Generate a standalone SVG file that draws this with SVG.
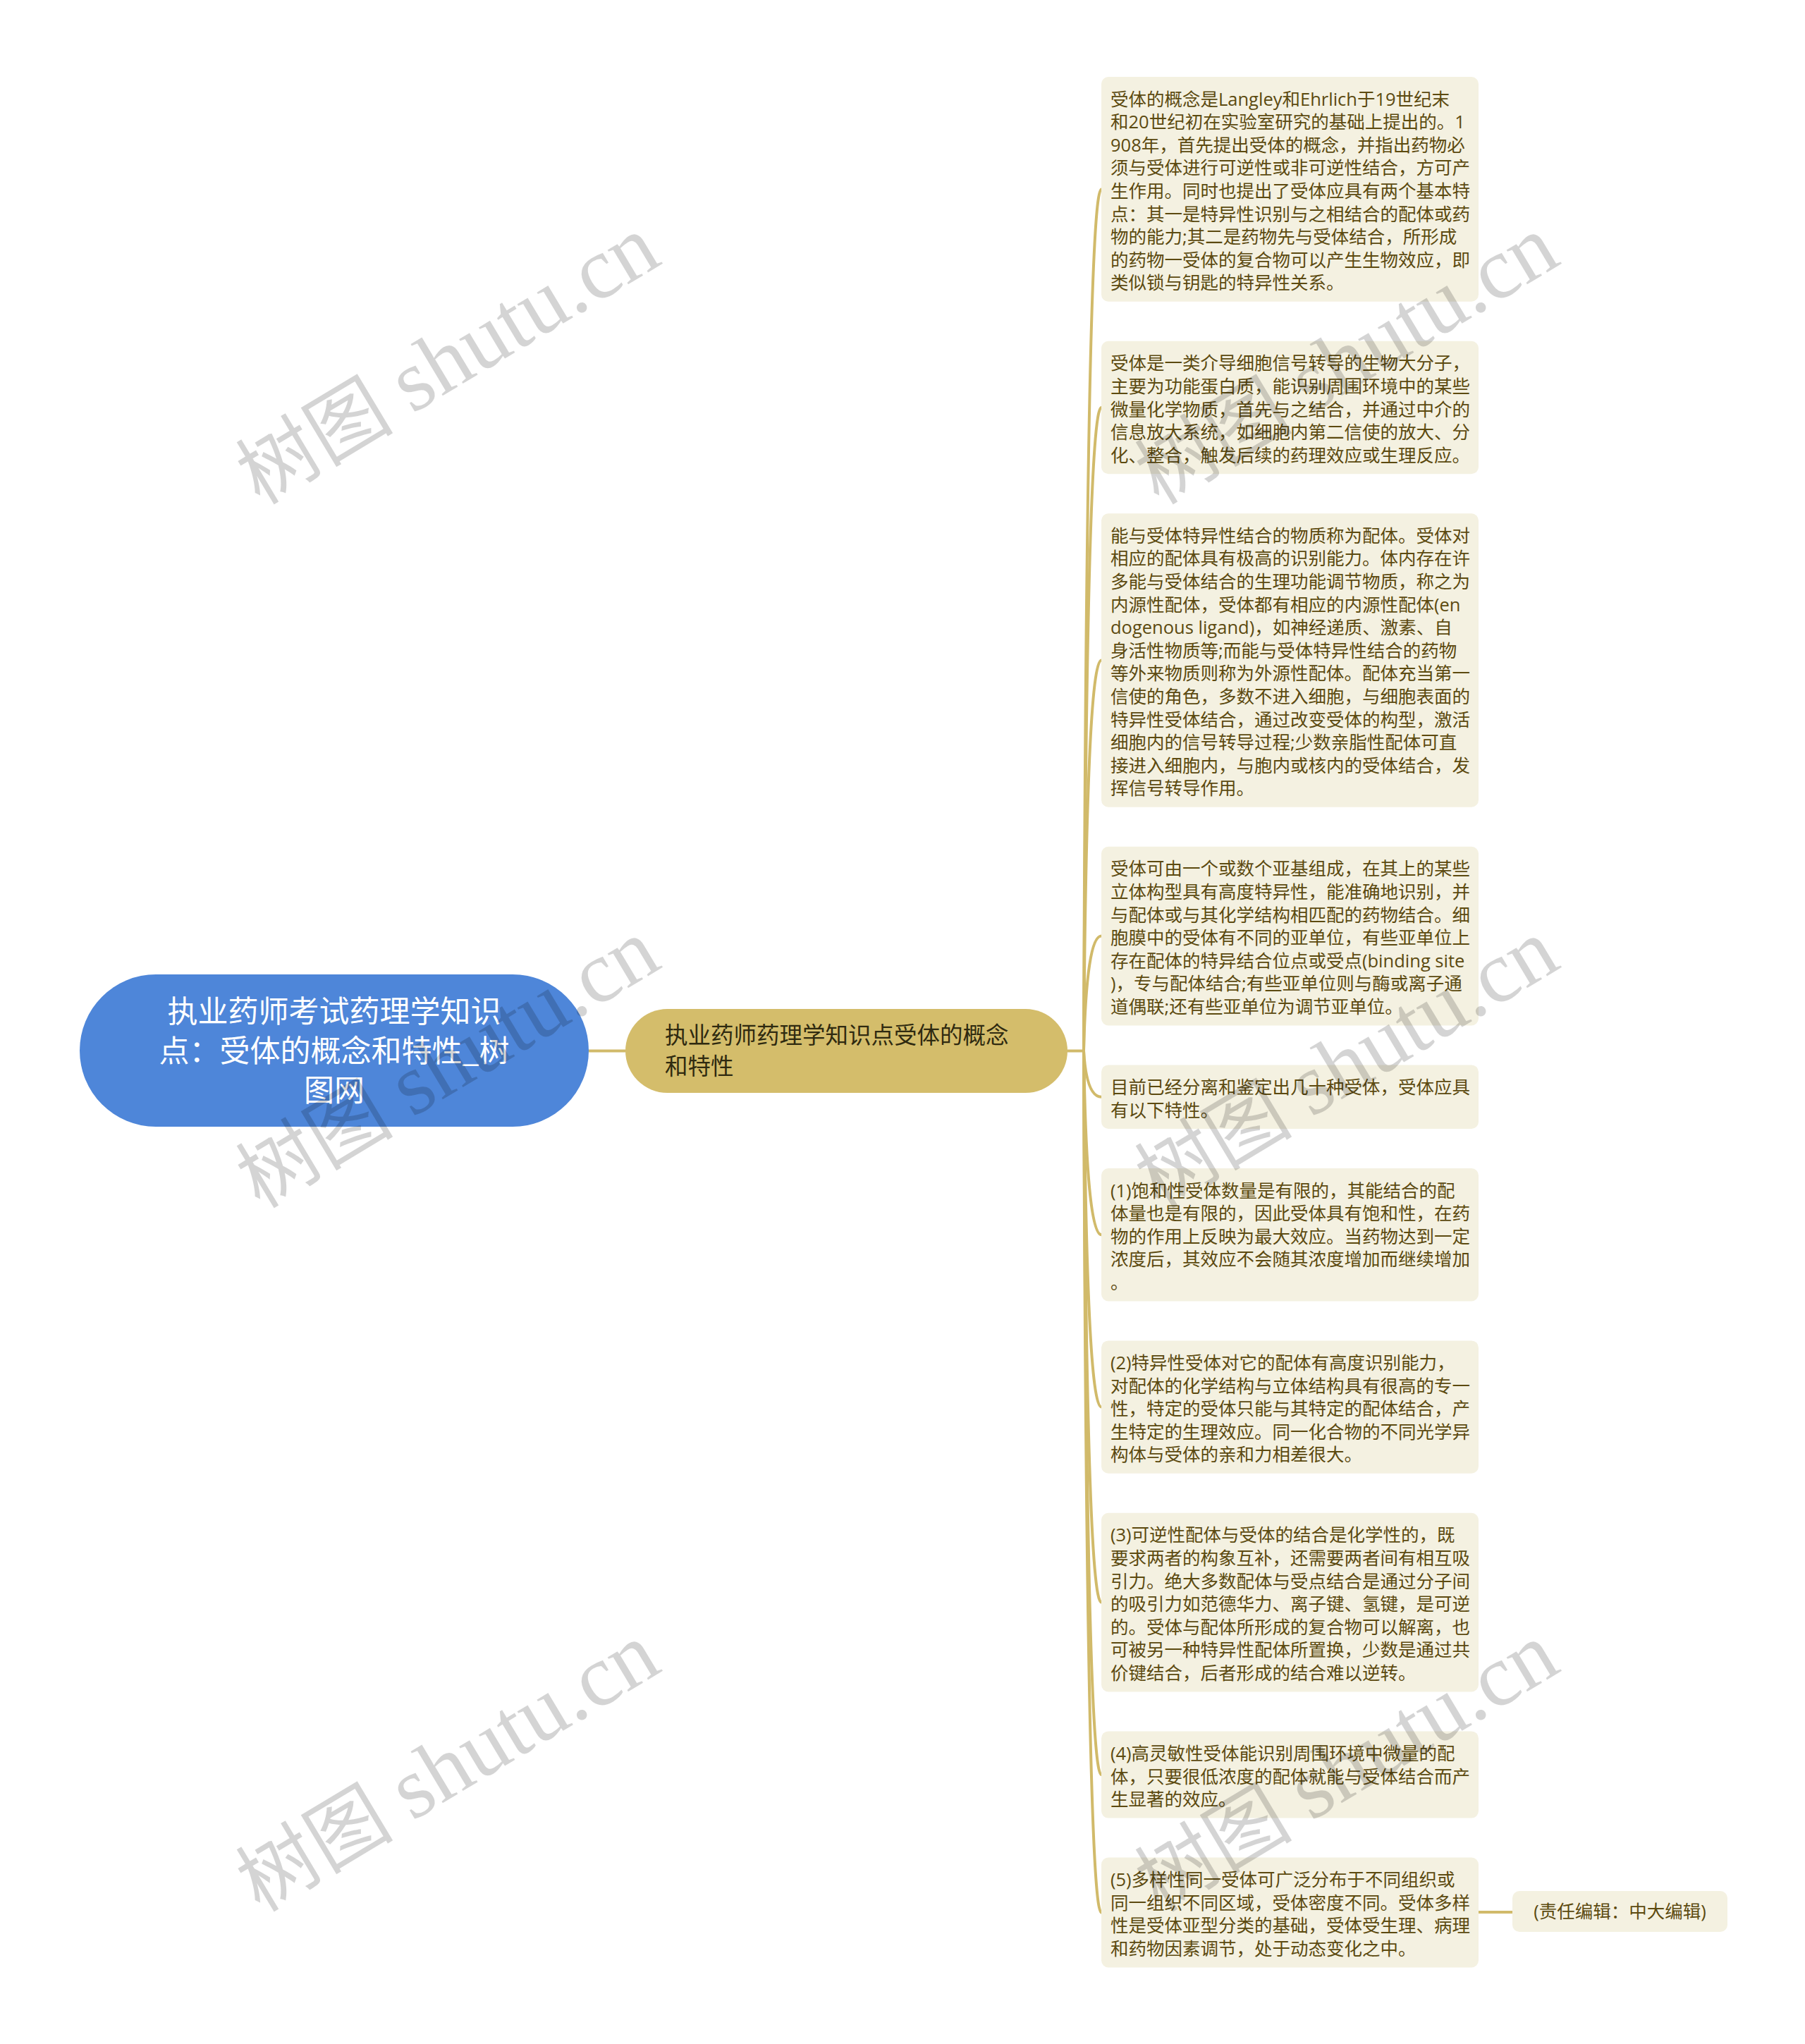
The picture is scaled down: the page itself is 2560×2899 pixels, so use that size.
<svg xmlns="http://www.w3.org/2000/svg" width="2560" height="2899" viewBox="0 0 2560 2899">
<style>
.bg{fill:#ffffff}
.root{fill:#4E86D9}
.roott{fill:#ffffff;font-family:"Noto Sans CJK SC","Noto Sans",sans-serif;font-size:43px;text-anchor:middle}
.sub{fill:#D4BD6B}
.subt{fill:#2f2a10;font-family:"Noto Sans CJK SC","Noto Sans",sans-serif;font-size:32.5px}
.leaf{fill:#F4F1E1}
.leaft{fill:#5C4A10;font-family:"Open Sans","Noto Sans CJK SC",sans-serif;font-size:25.5px}
.conn{fill:none;stroke:#D1BA6A;stroke-width:4}
.wm{fill:#000000;fill-opacity:0.17;font-family:"Liberation Serif","Noto Sans CJK SC",serif;font-size:112px;text-anchor:middle}
.wml{font-size:124px}
</style>
<rect class="bg" x="0" y="0" width="2560" height="2899"/>
<g id="connectors">
<path class="conn" d="M835 1490.5 L887 1490.5"/>
<path class="conn" d="M1514 1490.5 L1537 1490.5"/>
<path class="conn" d="M1537 1490.5 Q1541 268.4 1562 268.4"/>
<path class="conn" d="M1537 1490.5 Q1541 578 1562 578"/>
<path class="conn" d="M1537 1490.5 Q1541 936.5 1562 936.5"/>
<path class="conn" d="M1537 1490.5 Q1541 1327.6 1562 1327.6"/>
<path class="conn" d="M1537 1490.5 Q1541 1555.7 1562 1555.7"/>
<path class="conn" d="M1537 1490.5 Q1541 1751.2 1562 1751.2"/>
<path class="conn" d="M1537 1490.5 Q1541 1995.6 1562 1995.6"/>
<path class="conn" d="M1537 1490.5 Q1541 2272.6 1562 2272.6"/>
<path class="conn" d="M1537 1490.5 Q1541 2517 1562 2517"/>
<path class="conn" d="M1537 1490.5 Q1541 2712.5 1562 2712.5"/>
<path class="conn" d="M2097 2712 L2145 2712"/>
</g>
<g id="root">
<rect class="root" x="113" y="1382" width="722" height="216" rx="108" ry="108"/>
<text class="roott" x="474" y="1450">执业药师考试药理学知识</text>
<text class="roott" x="474" y="1506">点：受体的概念和特性_树</text>
<text class="roott" x="474" y="1562">图网</text>
</g>
<g id="n-main">
<rect class="sub" x="887" y="1431" width="627" height="119" rx="59.5" ry="59.5"/>
<text class="subt" x="943" y="1480">执业药师药理学知识点受体的概念</text>
<text class="subt" x="943" y="1524">和特性</text>
</g>
<g id="leaf1">
<rect class="leaf" x="1562" y="109" width="535" height="318.8" rx="10"/>
<text class="leaft" x="1575" y="149.5"><tspan x="1575">受体的概念是Langley和Ehrlich于19世纪末</tspan><tspan x="1575" dy="32.6">和20世纪初在实验室研究的基础上提出的。1</tspan><tspan x="1575" dy="32.6">908年，首先提出受体的概念，并指出药物必</tspan><tspan x="1575" dy="32.6">须与受体进行可逆性或非可逆性结合，方可产</tspan><tspan x="1575" dy="32.6">生作用。同时也提出了受体应具有两个基本特</tspan><tspan x="1575" dy="32.6">点：其一是特异性识别与之相结合的配体或药</tspan><tspan x="1575" dy="32.6">物的能力;其二是药物先与受体结合，所形成</tspan><tspan x="1575" dy="32.6">的药物一受体的复合物可以产生生物效应，即</tspan><tspan x="1575" dy="32.6">类似锁与钥匙的特异性关系。</tspan></text>
</g>
<g id="leaf2">
<rect class="leaf" x="1562" y="483.8" width="535" height="188.4" rx="10"/>
<text class="leaft" x="1575" y="524.3"><tspan x="1575">受体是一类介导细胞信号转导的生物大分子，</tspan><tspan x="1575" dy="32.6">主要为功能蛋白质，能识别周围环境中的某些</tspan><tspan x="1575" dy="32.6">微量化学物质，首先与之结合，并通过中介的</tspan><tspan x="1575" dy="32.6">信息放大系统，如细胞内第二信使的放大、分</tspan><tspan x="1575" dy="32.6">化、整合，触发后续的药理效应或生理反应。</tspan></text>
</g>
<g id="leaf3">
<rect class="leaf" x="1562" y="728.2" width="535" height="416.6" rx="10"/>
<text class="leaft" x="1575" y="768.7"><tspan x="1575">能与受体特异性结合的物质称为配体。受体对</tspan><tspan x="1575" dy="32.6">相应的配体具有极高的识别能力。体内存在许</tspan><tspan x="1575" dy="32.6">多能与受体结合的生理功能调节物质，称之为</tspan><tspan x="1575" dy="32.6">内源性配体，受体都有相应的内源性配体(en</tspan><tspan x="1575" dy="32.6">dogenous ligand)，如神经递质、激素、自</tspan><tspan x="1575" dy="32.6">身活性物质等;而能与受体特异性结合的药物</tspan><tspan x="1575" dy="32.6">等外来物质则称为外源性配体。配体充当第一</tspan><tspan x="1575" dy="32.6">信使的角色，多数不进入细胞，与细胞表面的</tspan><tspan x="1575" dy="32.6">特异性受体结合，通过改变受体的构型，激活</tspan><tspan x="1575" dy="32.6">细胞内的信号转导过程;少数亲脂性配体可直</tspan><tspan x="1575" dy="32.6">接进入细胞内，与胞内或核内的受体结合，发</tspan><tspan x="1575" dy="32.6">挥信号转导作用。</tspan></text>
</g>
<g id="leaf4">
<rect class="leaf" x="1562" y="1200.8" width="535" height="253.6" rx="10"/>
<text class="leaft" x="1575" y="1241.3"><tspan x="1575">受体可由一个或数个亚基组成，在其上的某些</tspan><tspan x="1575" dy="32.6">立体构型具有高度特异性，能准确地识别，并</tspan><tspan x="1575" dy="32.6">与配体或与其化学结构相匹配的药物结合。细</tspan><tspan x="1575" dy="32.6">胞膜中的受体有不同的亚单位，有些亚单位上</tspan><tspan x="1575" dy="32.6">存在配体的特异结合位点或受点(binding site</tspan><tspan x="1575" dy="32.6">)，专与配体结合;有些亚单位则与酶或离子通</tspan><tspan x="1575" dy="32.6">道偶联;还有些亚单位为调节亚单位。</tspan></text>
</g>
<g id="leaf5">
<rect class="leaf" x="1562" y="1510.4" width="535" height="90.6" rx="10"/>
<text class="leaft" x="1575" y="1550.9"><tspan x="1575">目前已经分离和鉴定出几十种受体，受体应具</tspan><tspan x="1575" dy="32.6">有以下特性。</tspan></text>
</g>
<g id="leaf6">
<rect class="leaf" x="1562" y="1657" width="535" height="188.4" rx="10"/>
<text class="leaft" x="1575" y="1697.5"><tspan x="1575">(1)饱和性受体数量是有限的，其能结合的配</tspan><tspan x="1575" dy="32.6">体量也是有限的，因此受体具有饱和性，在药</tspan><tspan x="1575" dy="32.6">物的作用上反映为最大效应。当药物达到一定</tspan><tspan x="1575" dy="32.6">浓度后，其效应不会随其浓度增加而继续增加</tspan><tspan x="1575" dy="32.6">。</tspan></text>
</g>
<g id="leaf7">
<rect class="leaf" x="1562" y="1901.4" width="535" height="188.4" rx="10"/>
<text class="leaft" x="1575" y="1941.9"><tspan x="1575">(2)特异性受体对它的配体有高度识别能力，</tspan><tspan x="1575" dy="32.6">对配体的化学结构与立体结构具有很高的专一</tspan><tspan x="1575" dy="32.6">性，特定的受体只能与其特定的配体结合，产</tspan><tspan x="1575" dy="32.6">生特定的生理效应。同一化合物的不同光学异</tspan><tspan x="1575" dy="32.6">构体与受体的亲和力相差很大。</tspan></text>
</g>
<g id="leaf8">
<rect class="leaf" x="1562" y="2145.8" width="535" height="253.6" rx="10"/>
<text class="leaft" x="1575" y="2186.3"><tspan x="1575">(3)可逆性配体与受体的结合是化学性的，既</tspan><tspan x="1575" dy="32.6">要求两者的构象互补，还需要两者间有相互吸</tspan><tspan x="1575" dy="32.6">引力。绝大多数配体与受点结合是通过分子间</tspan><tspan x="1575" dy="32.6">的吸引力如范德华力、离子键、氢键，是可逆</tspan><tspan x="1575" dy="32.6">的。受体与配体所形成的复合物可以解离，也</tspan><tspan x="1575" dy="32.6">可被另一种特异性配体所置换，少数是通过共</tspan><tspan x="1575" dy="32.6">价键结合，后者形成的结合难以逆转。</tspan></text>
</g>
<g id="leaf9">
<rect class="leaf" x="1562" y="2455.4" width="535" height="123.2" rx="10"/>
<text class="leaft" x="1575" y="2495.9"><tspan x="1575">(4)高灵敏性受体能识别周围环境中微量的配</tspan><tspan x="1575" dy="32.6">体，只要很低浓度的配体就能与受体结合而产</tspan><tspan x="1575" dy="32.6">生显著的效应。</tspan></text>
</g>
<g id="leaf10">
<rect class="leaf" x="1562" y="2634.6" width="535" height="155.8" rx="10"/>
<text class="leaft" x="1575" y="2675.1"><tspan x="1575">(5)多样性同一受体可广泛分布于不同组织或</tspan><tspan x="1575" dy="32.6">同一组织不同区域，受体密度不同。受体多样</tspan><tspan x="1575" dy="32.6">性是受体亚型分类的基础，受体受生理、病理</tspan><tspan x="1575" dy="32.6">和药物因素调节，处于动态变化之中。</tspan></text>
</g>
<g id="editor">
<rect class="leaf" x="2145" y="2682" width="305" height="58" rx="10"/>
<text class="leaft" x="2297.5" y="2720" text-anchor="middle">(责任编辑：中大编辑)</text>
</g>
<g id="watermarks">
<text class="wm" transform="translate(655 545) rotate(-31)">树图 <tspan class="wml">shutu.cn</tspan></text>
<text class="wm" transform="translate(655 1543) rotate(-31)">树图 <tspan class="wml">shutu.cn</tspan></text>
<text class="wm" transform="translate(655 2541) rotate(-31)">树图 <tspan class="wml">shutu.cn</tspan></text>
<text class="wm" transform="translate(1930 545) rotate(-31)">树图 <tspan class="wml">shutu.cn</tspan></text>
<text class="wm" transform="translate(1930 1543) rotate(-31)">树图 <tspan class="wml">shutu.cn</tspan></text>
<text class="wm" transform="translate(1930 2541) rotate(-31)">树图 <tspan class="wml">shutu.cn</tspan></text>
</g>
</svg>
